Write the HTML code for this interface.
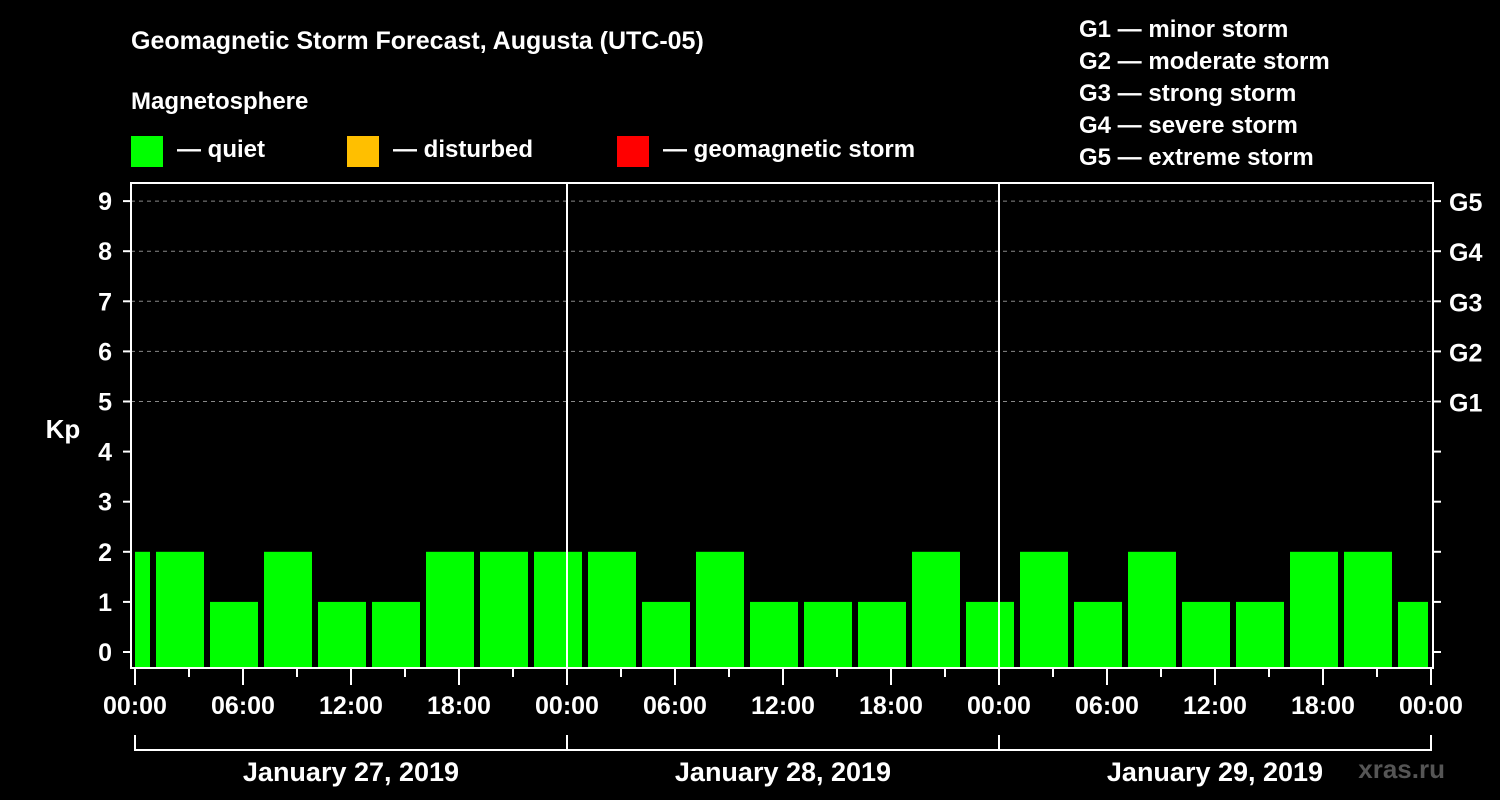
<!DOCTYPE html>
<html><head><meta charset="utf-8"><style>
body{margin:0;background:#000;}
svg{display:block;font-family:"Liberation Sans",Arial,sans-serif;font-weight:bold;}
</style></head><body>
<svg id="c" width="1500" height="800" viewBox="0 0 1500 800">
<rect width="1500" height="800" fill="#000"/>
<text x="131" y="49" fill="#fff" font-size="25">Geomagnetic Storm Forecast, Augusta (UTC-05)</text>
<text x="131" y="109" fill="#fff" font-size="24">Magnetosphere</text>
<g><rect x="131" y="136" width="32" height="31" fill="#00ff00"/><text x="177" y="157" fill="#fff" font-size="24">— quiet</text></g>
<g><rect x="347" y="136" width="32" height="31" fill="#ffbf00"/><text x="393" y="157" fill="#fff" font-size="24">— disturbed</text></g>
<g><rect x="617" y="136" width="32" height="31" fill="#ff0000"/><text x="663" y="157" fill="#fff" font-size="24">— geomagnetic storm</text></g>
<g fill="#fff" font-size="24">
<text x="1079" y="37">G1 — minor storm</text>
<text x="1079" y="69">G2 — moderate storm</text>
<text x="1079" y="101">G3 — strong storm</text>
<text x="1079" y="133">G4 — severe storm</text>
<text x="1079" y="165">G5 — extreme storm</text>
</g>
<text x="63" y="438" fill="#fff" font-size="26" text-anchor="middle">Kp</text>
<text x="1445" y="778" fill="#555" font-size="26" text-anchor="end">xras.ru</text>
<g id="plot"></g>
</svg>
<script>
const binStarts=[-2,1,4,7,10,13,16,19,22,25,28,31,34,37,40,43,46,49,52,55,58,61,64,67,70];
const kpValues=[2,2,1,2,1,1,2,2,2,2,1,2,1,1,1,2,1,2,1,2,1,1,2,2,1];
const yTicks=[0,1,2,3,4,5,6,7,8,9];
const gLabels=["","","","","","G1","G2","G3","G4","G5"];
const xTickHours=[0,6,12,18,24,30,36,42,48,54,60,66,72];
const xTickLabels=["00:00","06:00","12:00","18:00","00:00","06:00","12:00","18:00","00:00","06:00","12:00","18:00","00:00"];
const dayLabels=["January 27, 2019","January 28, 2019","January 29, 2019"];
const NS="http://www.w3.org/2000/svg";
const g=document.getElementById('plot');
const X=h=>135+h*18, Y=v=>652-50.1*v;
const L=131,R=1433,T=183,B=668;
function el(t,a){const e=document.createElementNS(NS,t);for(const k in a)e.setAttribute(k,a[k]);g.appendChild(e);return e;}
yTicks.forEach((v,i)=>{
 if(v>=5){const l=el('line',{x1:L,x2:R,y1:Y(v),y2:Y(v),stroke:'#888','stroke-dasharray':'4,4'});
 
 }
 const t=el('line',{x1:L-8,x2:L,y1:Y(v),y2:Y(v),stroke:'#fff','stroke-width':2});
 
 
 const t2=el('line',{x1:R,x2:R+8,y1:Y(v),y2:Y(v),stroke:'#fff','stroke-width':2});
 
 
 const tx=el('text',{x:112,y:Y(v)+9,fill:'#fff','font-size':25,'text-anchor':'end'});tx.textContent=v;
 
 
 if(gLabels[i]){const gt=el('text',{x:1449,y:Y(v)+10,fill:'#fff','font-size':25});gt.textContent=gLabels[i];
 
 }
});
binStarts.forEach((s,i)=>{
 const x1=Math.max(X(s)+3,L+4), x2=Math.min(X(s+3)-3,R-5);
 const v=kpValues[i];
 const c=v>=5?'#ff0000':(v>=4?'#ffbf00':'#00ff00');
 const r=el('rect',{x:x1,y:Y(v),width:x2-x1,height:B-Y(v),fill:c});
 
 
});
[24,48].forEach(h=>{const l=el('line',{x1:X(h),x2:X(h),y1:T,y2:B,stroke:'#fff','stroke-width':2});
 
 });
const fr=el('rect',{x:L,y:T,width:R-L,height:B-T,fill:'none',stroke:'#fff','stroke-width':2});


for(let h=0;h<=72;h+=3){const major=h%6===0;
 const l=el('line',{x1:X(h),x2:X(h),y1:B,y2:B+(major?17:9),stroke:'#fff','stroke-width':2});
 
 }
xTickHours.forEach((h,i)=>{const t=el('text',{x:X(h),y:714,fill:'#fff','font-size':25,'text-anchor':'middle'});t.textContent=xTickLabels[i];
 
 });
const br=el('path',{d:`M${X(0)},735V750H${X(72)}V735M${X(24)},735V750M${X(48)},735V750`,stroke:'#fff','stroke-width':2,fill:'none'});


dayLabels.forEach((d,i)=>{const t=el('text',{x:X(24*i+12),y:781,fill:'#fff','font-size':27,'text-anchor':'middle'});t.textContent=d;
 
 });
</script>
</body></html>
